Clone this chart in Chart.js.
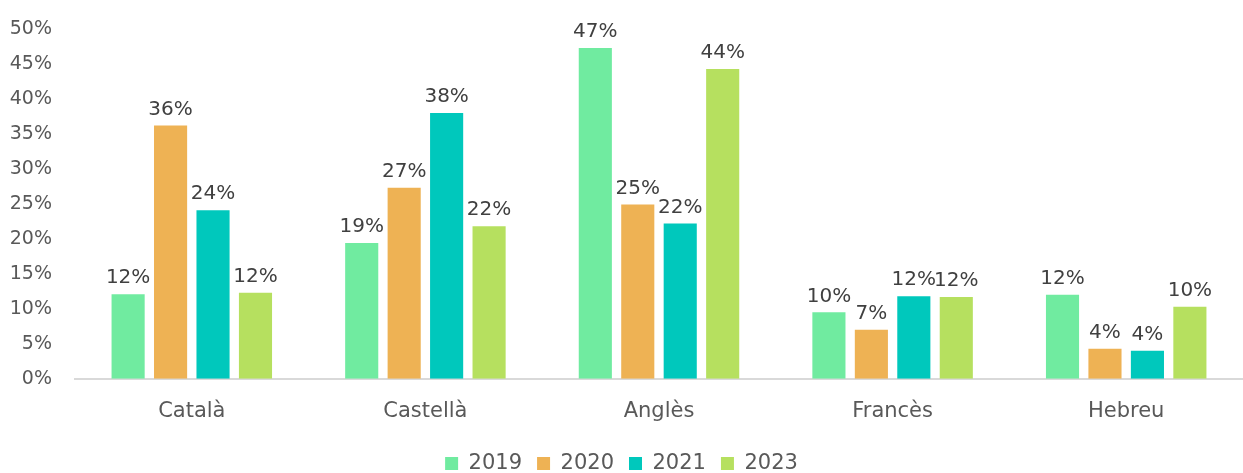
<!DOCTYPE html>
<html><head><meta charset="utf-8">
<script src="https://cdn.jsdelivr.net/npm/chart.js@4"></script>
<style>html,body{margin:0;padding:0;background:#fff}#wrap{width:1243px;height:473px}</style>
</head><body><div id="wrap"><canvas id="c" width="1243" height="473"></canvas></div>
<script>
const categories = ['Català', 'Castellà', 'Anglès', 'Francès', 'Hebreu'];
const years = ['2019', '2020', '2021', '2023'];
const values2019 = [0.121, 0.194, 0.473, 0.095, 0.120];
const values2020 = [0.362, 0.273, 0.249, 0.070, 0.043];
const values2021 = [0.241, 0.380, 0.222, 0.118, 0.040];
const values2023 = [0.123, 0.218, 0.443, 0.117, 0.103];
const yTicks = [0, 0.05, 0.10, 0.15, 0.20, 0.25, 0.30, 0.35, 0.40, 0.45, 0.50];
const colors = ['#70EBA0', '#EEB254', '#00C8BC', '#B6E05F'];

const FONT = "'DejaVu Sans', sans-serif";
const seriesValues = [values2019, values2020, values2021, values2023];

const labelPlugin = {
  id: 'barLabels',
  afterDatasetsDraw(chart) {
    const ctx = chart.ctx;
    ctx.save();
    ctx.font = '20px ' + FONT;
    ctx.fillStyle = '#404040';
    ctx.textAlign = 'center';
    ctx.textBaseline = 'bottom';
    chart.data.datasets.forEach((ds, i) => {
      const meta = chart.getDatasetMeta(i);
      meta.data.forEach((bar, j) => {
        const v = ds.data[j];
        ctx.fillText(Math.round(v * 100) + '%', bar.x, bar.y - 6);
      });
    });
    ctx.restore();
  }
};

const legendFitPlugin = {
  id: 'legendFit',
  beforeInit(chart) {
    const orig = chart.legend.fit;
    chart.legend.fit = function () {
      orig.call(this);
      this.height -= 11;
    };
  }
};

new Chart(document.getElementById('c'), {
  type: 'bar',
  data: {
    labels: categories,
    datasets: years.map((y, i) => ({
      label: y,
      data: seriesValues[i],
      backgroundColor: colors[i],
      borderWidth: 0,
      categoryPercentage: 0.727,
      barPercentage: 0.78
    }))
  },
  options: {
    responsive: false,
    animation: false,
    devicePixelRatio: 1,
    layout: { padding: { top: 29, left: 0, right: 0, bottom: 0 } },
    plugins: {
      legend: {
        position: 'bottom',
        labels: {
          boxWidth: 13, boxHeight: 13, padding: 15,
          color: '#595959',
          font: { family: FONT, size: 21 }
        }
      },
      tooltip: { enabled: false }
    },
    scales: {
      x: {
        afterFit(scale) { scale.height -= 6; },
        grid: { display: false, drawTicks: false },
        border: { display: true, color: '#D9D9D9', width: 2 },
        ticks: { color: '#595959', font: { family: FONT, size: 21 }, padding: 20 }
      },
      y: {
        min: 0, max: 0.5,
        afterBuildTicks(scale) { scale.ticks = yTicks.map(v => ({ value: v })); },
        afterFit(scale) { scale.width = 75; scale.paddingTop = 0; scale.paddingBottom = 0; },
        grid: { display: false, drawTicks: false },
        border: { display: false },
        ticks: {
          color: '#595959', font: { family: FONT, size: 19 }, padding: 23,
          callback: v => Math.round(v * 100) + '%'
        }
      }
    }
  },
  plugins: [labelPlugin, legendFitPlugin]
});
</script></body></html>
